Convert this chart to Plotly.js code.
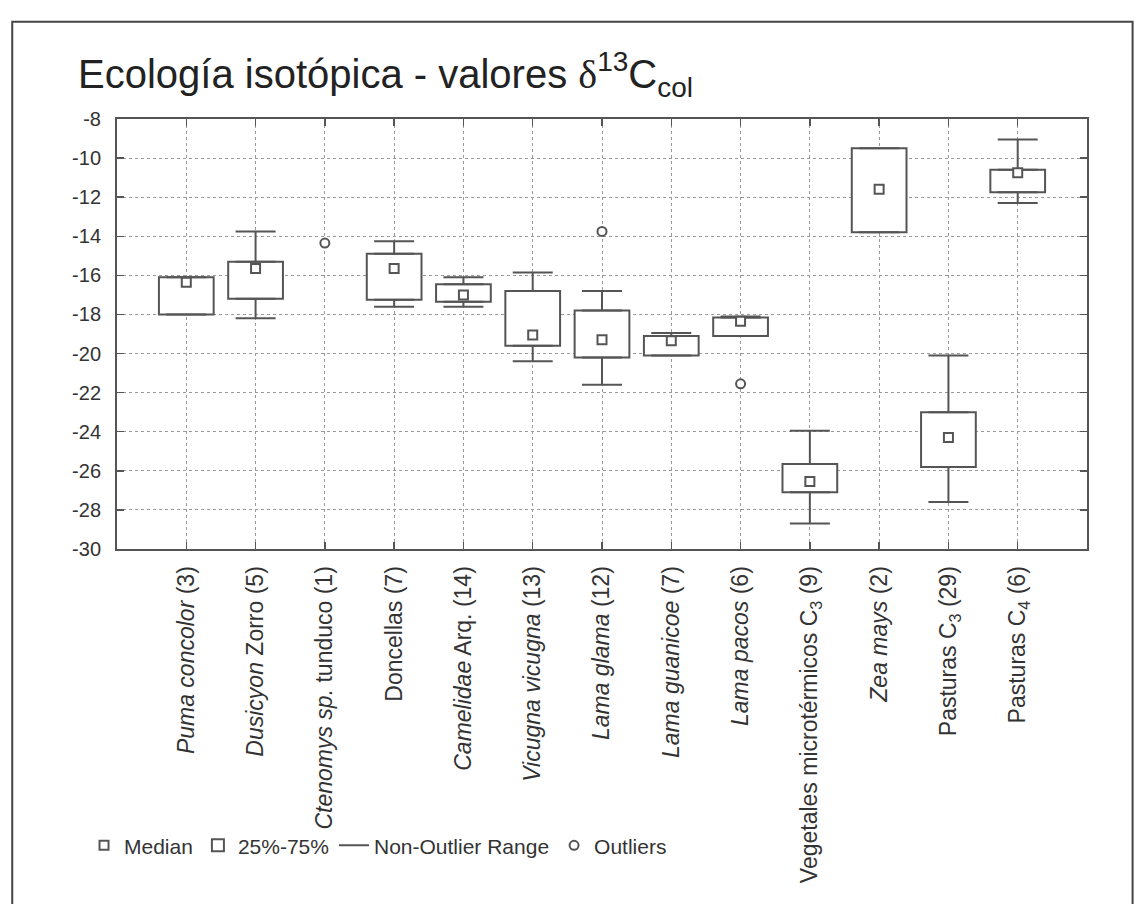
<!DOCTYPE html>
<html>
<head>
<meta charset="utf-8">
<script src="https://cdn.plot.ly/plotly-3.0.1.min.js"></script>
<style>html,body{margin:0;padding:0;background:#fff;}#chart{width:1139px;height:904px;}</style>
</head>
<body>
<div id="chart"></div>
<script>
// ---- data ----
const categories = [
  "<i>Puma concolor</i> (3)",
  "<i>Dusicyon</i> Zorro (5)",
  "<i>Ctenomys sp.</i> tunduco (1)",
  "Doncellas (7)",
  "<i>Camelidae</i> Arq. (14)",
  "<i>Vicugna vicugna</i> (13)",
  "<i>Lama glama</i> (12)",
  "<i>Lama guanicoe</i> (7)",
  "<i>Lama pacos</i> (6)",
  "Vegetales microtérmicos C<sub>3</sub> (9)",
  "<i>Zea mays</i> (2)",
  "Pasturas C<sub>3</sub> (29)",
  "Pasturas C<sub>4</sub> (6)"
];
const q1 =        [-18.0, -17.2, null, -17.25, -17.35, -19.6, -20.2, -20.1, -19.1, -27.1, -13.8, -25.8, -11.75];
const q3 =        [-16.1, -15.3, null, -14.9,  -16.45, -16.8, -17.8, -19.1, -18.15, -25.65, -9.5, -23.0, -10.6];
const medians =   [-16.35, -15.65, null, -15.65, -17.0, -19.05, -19.3, -19.35, -18.35, -26.55, -11.6, -24.3, -10.75];
const upperRange = [-16.1, -13.75, null, -14.25, -16.1, -15.85, -16.8, -18.95, -18.1, -23.95, -9.5, -20.1, -9.05];
const lowerRange = [-18.0, -18.2, null, -17.6, -17.6, -20.4, -21.6, -20.1, -19.1, -28.7, -13.8, -27.6, -12.3];
const outlierCategories = [2, 6, 8];
const outlierValues = [-14.35, -13.75, -21.55];
const yTicks = [-30, -28, -26, -24, -22, -20, -18, -16, -14, -12, -10, -8];

// ---- styling ----
const INK = "#555555";
const FONT = "Liberation Sans, Arial, sans-serif";

const boxTrace = {
  type: "bar",
  name: "25%-75%",
  x: categories,
  base: q1,
  y: q3.map((v, i) => (v === null ? null : v - q1[i])),
  width: 0.79,
  marker: { color: "#ffffff", line: { color: INK, width: 2 } },
  hoverinfo: "skip"
};

const upperWhisker = {
  type: "scatter",
  mode: "markers",
  name: "Non-Outlier Range",
  showlegend: false,
  x: categories,
  y: q3,
  marker: { size: 1, opacity: 0 },
  error_y: {
    type: "data", symmetric: false,
    array: upperRange.map((v, i) => (v === null ? null : v - q3[i])),
    arrayminus: q3.map(v => (v === null ? null : 0)),
    width: 20, thickness: 2, color: INK
  },
  hoverinfo: "skip"
};
const lowerWhisker = {
  type: "scatter",
  mode: "markers",
  name: "Non-Outlier Range",
  showlegend: false,
  x: categories,
  y: q1,
  marker: { size: 1, opacity: 0 },
  error_y: {
    type: "data", symmetric: false,
    array: q1.map(v => (v === null ? null : 0)),
    arrayminus: lowerRange.map((v, i) => (v === null ? null : q1[i] - v)),
    width: 20, thickness: 2, color: INK
  },
  hoverinfo: "skip"
};
const whiskerLegend = {
  type: "scatter",
  mode: "lines",
  name: "Non-Outlier Range",
  x: [null], y: [null],
  line: { color: INK, width: 2 }
};

const medianTrace = {
  type: "scatter",
  mode: "markers",
  name: "Median",
  x: categories,
  y: medians,
  marker: { symbol: "square", size: 9, color: "#ffffff", line: { color: INK, width: 2 } }
};

const outlierTrace = {
  type: "scatter",
  mode: "markers",
  name: "Outliers",
  x: outlierCategories.map(i => categories[i]),
  y: outlierValues,
  marker: { symbol: "circle", size: 9, color: "#ffffff", line: { color: INK, width: 2 } }
};

medianTrace.legendrank = 1;
boxTrace.legendrank = 2;
whiskerLegend.legendrank = 3;
outlierTrace.legendrank = 4;

const layout = {
  width: 1139,
  height: 904,
  paper_bgcolor: "#ffffff",
  plot_bgcolor: "#ffffff",
  font: { family: FONT, color: "#333333", size: 20 },
  margin: { l: 117, r: 52, t: 119, b: 355, pad: 0 },
  title: {
    text: "Ecología isotópica - valores <span style=\"font-family:'Liberation Serif',serif\">δ</span><sup>13</sup>C<sub>col</sub>",
    font: { family: FONT, size: 40, color: "#222222" },
    x: 0.0685, xref: "container", xanchor: "left",
    y: 0.918, yref: "container", yanchor: "middle"
  },
  xaxis: {
    type: "category",
    range: [-1, 13],
    tickangle: -90,
    ticks: "inside", ticklen: 7, tickwidth: 1.5, tickcolor: INK,
    showline: true, linecolor: INK, linewidth: 2, mirror: "allticks",
    showgrid: true, gridcolor: "#9a9a9a", gridwidth: 1, griddash: "dot",
    tickfont: { family: FONT, size: 23, color: "#333333" },
    ticklabelstandoff: 6,
    zeroline: false,
    fixedrange: true
  },
  yaxis: {
    range: [-30, -8],
    tickvals: yTicks,
    ticktext: yTicks.map(String),
    ticks: "inside", ticklen: 7, tickwidth: 1.5, tickcolor: INK,
    showline: true, linecolor: INK, linewidth: 2, mirror: "allticks",
    showgrid: true, gridcolor: "#9a9a9a", gridwidth: 1, griddash: "dot",
    tickfont: { family: FONT, size: 20, color: "#333333" },
    ticklabelstandoff: 10,
    zeroline: false,
    fixedrange: true
  },
  bargap: 0,
  showlegend: true,
  legend: {
    orientation: "h",
    x: -0.034, xanchor: "left",
    y: -0.69, yanchor: "middle",
    font: { family: FONT, size: 21, color: "#333333" },
    bgcolor: "rgba(0,0,0,0)",
    traceorder: "normal"
  },
  shapes: [
    {
      type: "rect", xref: "paper", yref: "paper",
      x0: -0.108, x1: 1.047, y0: -0.85, y1: 1.226,
      line: { color: "#444444", width: 2 }, fillcolor: "rgba(0,0,0,0)", layer: "below"
    }
  ]
};

Plotly.newPlot("chart", [boxTrace, upperWhisker, lowerWhisker, whiskerLegend, medianTrace, outlierTrace], layout, { displayModeBar: false, staticPlot: true });
</script>
</body>
</html>
